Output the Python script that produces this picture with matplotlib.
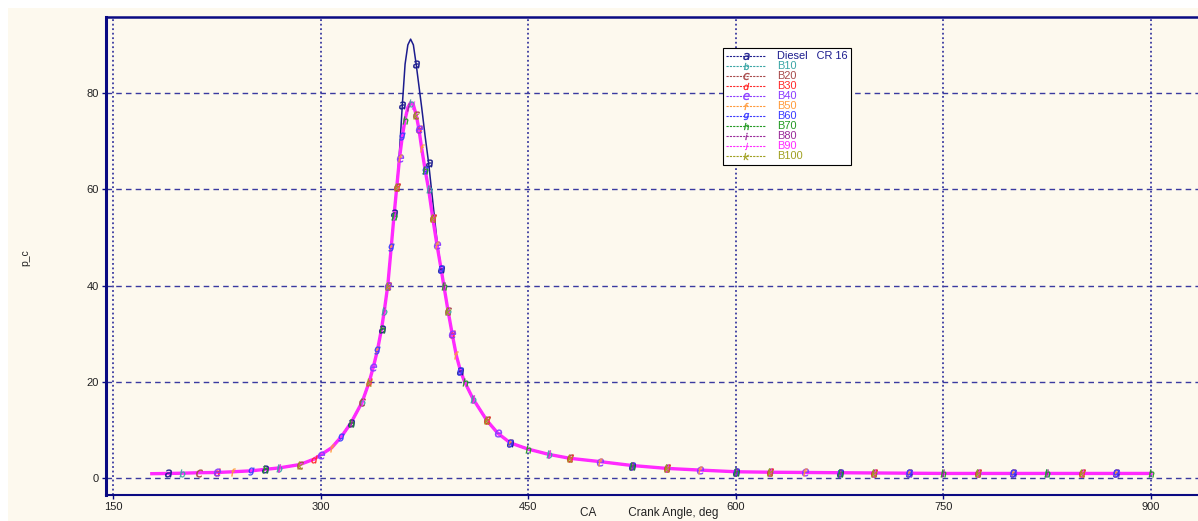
"""Cylinder pressure vs crank angle for diesel and biodiesel blends."""

import matplotlib

matplotlib.use("Agg")
import matplotlib.pyplot as plt
from matplotlib.lines import Line2D
from matplotlib.patches import Rectangle

# crank angle, deg
crank_angle = [
    178, 190, 200, 212, 225, 237, 250, 260, 270, 285, 295, 300, 308, 315,
    322, 330, 335, 338, 341, 344, 346, 348.5, 351, 353, 355, 357, 359, 361,
    363, 365, 367, 369, 371, 373, 375.5, 378, 381, 384, 387, 389, 392, 395,
    398, 401, 404, 410, 420, 428, 437, 450, 465, 480, 502, 525, 550, 574,
    600, 625, 650, 675, 700, 725, 750, 775, 800, 825, 850, 875, 900,
]

# cylinder pressure, bar - neat diesel at CR 16
p_diesel = [
    0.9, 0.95, 1.0, 1.1, 1.15, 1.3, 1.5, 1.8, 2.1, 2.8, 3.9, 4.8, 6.3, 8.6,
    11.5, 15.8, 19.9, 23.0, 26.5, 31.0, 34.8, 40.0, 48.0, 55.0, 60.5, 68.0,
    77.5, 86.0, 90.0, 91.2, 90.0, 86.0, 81.5, 77.0, 71.0, 65.5, 57.5, 49.5,
    43.5, 40.0, 34.8, 30.0, 25.5, 22.3, 20.0, 16.5, 12.0, 9.3, 7.3, 6.0,
    4.9, 4.1, 3.4, 2.6, 2.0, 1.65, 1.3, 1.2, 1.15, 1.1, 1.05, 1.0, 0.95,
    0.95, 0.95, 0.95, 0.95, 0.95, 0.95,
]

# cylinder pressure, bar - the blends B10..B100 lie on one curve
p_blend = [
    0.9, 0.95, 1.0, 1.1, 1.15, 1.3, 1.5, 1.8, 2.1, 2.8, 3.9, 4.8, 6.3, 8.6,
    11.5, 15.8, 19.9, 23.0, 26.5, 31.0, 34.8, 40.0, 48.0, 54.5, 60.5, 66.5,
    71.0, 74.5, 77.0, 78.0, 77.5, 75.5, 72.5, 68.5, 64.0, 60.0, 54.0, 48.5,
    43.5, 40.0, 34.8, 30.0, 25.5, 22.3, 20.0, 16.5, 12.0, 9.3, 7.3, 6.0,
    4.9, 4.1, 3.4, 2.6, 2.0, 1.65, 1.3, 1.2, 1.15, 1.1, 1.05, 1.0, 0.95,
    0.95, 0.95, 0.95, 0.95, 0.95, 0.95,
]

series_labels = ["Diesel   CR 16", "B10", "B20", "B30", "B40", "B50",
                 "B60", "B70", "B80", "B90", "B100"]
series_letters = list("abcdefghijk")
series_colors = ["#1c1c8e", "#3aa6a6", "#a84a4a", "#ff2a2a", "#8a3cff",
                 "#ff9a3a", "#3a3aff", "#229a22", "#9a2a9a", "#ff2aff",
                 "#a0a020"]

x_ticks = [150, 300, 450, 600, 750, 900]
y_ticks = [0, 20, 40, 60, 80]

CREAM = "#fdf9ee"
NAVY = "#0a0a82"
GRID = "#3a3aa0"


def main() -> None:
    plt.rcParams["font.family"] = ["Liberation Sans", "DejaVu Sans"]

    fig = plt.figure(figsize=(11.98, 5.21), dpi=100, facecolor="white")
    # cream panel behind everything, leaving a thin white margin top-left
    fig.patches.append(Rectangle((8 / 1198, 0), 1, 513 / 521,
                                 transform=fig.transFigure,
                                 facecolor=CREAM, edgecolor="none",
                                 zorder=-10))

    ax = fig.add_axes([106 / 1198, 26 / 521, 1104 / 1198, 478 / 521])
    ax.set_zorder(1)
    ax.set_facecolor(CREAM)
    ax.set_xlim(144.9, 942.6)
    ax.set_ylim(-3.53, 95.8)

    for x in x_ticks:
        ax.axvline(x, color=GRID, lw=1.3, ls=(0, (1, 1.5)), zorder=1)
    for y in y_ticks:
        ax.axhline(y, color=GRID, lw=1.0, ls=(0, (4, 3)), zorder=1)

    for idx, (label, letter, color) in enumerate(
            zip(series_labels, series_letters, series_colors)):
        values = p_diesel if idx == 0 else p_blend
        is_top = letter == "j"
        ax.plot(crank_angle, values, color=color,
                lw=2.4 if is_top else 1.1,
                zorder=4 if is_top else 3)
        ax.plot(crank_angle, values, ls="none", marker=f"${letter}$",
                markersize=5.5, markeredgewidth=0.25, color=color,
                markevery=(0.015 + 0.011 * idx, 0.085), zorder=5)

    handles = [
        Line2D([], [], color=c, lw=0.8, ls=(0, (2, 1)), marker=f"${l}$",
               markersize=5.0, markeredgewidth=0.25)
        for l, c in zip(series_letters, series_colors)
    ]
    legend = ax.legend(handles, series_labels, loc="upper left",
                       bbox_to_anchor=(0.559, 0.935), borderaxespad=0,
                       fontsize=7.9, labelcolor=series_colors, numpoints=1,
                       handlelength=3.6, handletextpad=1.0,
                       labelspacing=0.0, borderpad=0.3,
                       fancybox=False, framealpha=1.0)
    legend.get_frame().set_edgecolor("black")
    legend.get_frame().set_linewidth(0.8)
    legend.set_zorder(6)

    ax.set_xticks(x_ticks)
    ax.set_yticks(y_ticks)
    ax.tick_params(axis="both", labelsize=8, labelcolor="#222222",
                   color=NAVY, length=3, width=1, pad=2)

    ax.spines["right"].set_visible(False)
    ax.spines["left"].set_color(NAVY)
    ax.spines["left"].set_linewidth(2.2)
    ax.spines["top"].set_color(NAVY)
    ax.spines["top"].set_linewidth(1.8)
    ax.spines["bottom"].set_color(NAVY)
    ax.spines["bottom"].set_linewidth(1.5)

    fig.text(25 / 1198, 1 - 258 / 521, "p_c", rotation=90, fontsize=7.5,
             color="#222222", ha="center", va="center")
    fig.text(580 / 1198, 2 / 521, "CA          Crank Angle, deg",
             fontsize=8.5, color="#222222", ha="left", va="bottom")

    fig.savefig("out.png", dpi=100, facecolor="white")
    plt.close(fig)


if __name__ == "__main__":
    main()
